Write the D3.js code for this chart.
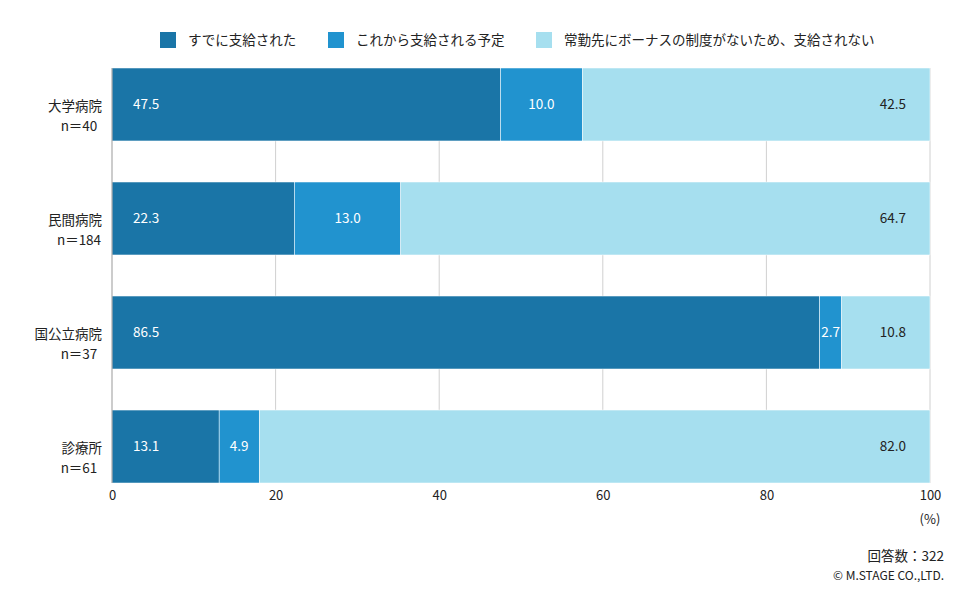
<!DOCTYPE html>
<html><head><meta charset="utf-8">
<script src="https://cdn.jsdelivr.net/npm/d3@7"></script>
<style>
body{margin:0;background:#fff;}
svg{font-family:"Noto Sans CJK JP","Noto Sans",sans-serif;}
</style></head>
<body><svg id="c" width="976" height="600"></svg>
<script>
const categories = ["大学病院","民間病院","国公立病院","診療所"];
const nLabels = ["n＝40","n＝184","n＝37","n＝61"];
const seriesNames = ["すでに支給された","これから支給される予定","常勤先にボーナスの制度がないため、支給されない"];
const paid = [47.5, 22.3, 86.5, 13.1];
const planned = [10.0, 13.0, 2.7, 4.9];
const notPaid = [42.5, 64.7, 10.8, 82.0];
const xTicks = [0,20,40,60,80,100];
const colors = ["#1a75a7","#2193cf","#a6dfef"];

const FS = 13.5;
const svg = d3.select("#c");
const x = d3.scaleLinear().domain([0,100]).range([112,930]);
const y = d3.scaleBand().domain(categories).range([68,483]).paddingInner(0.36).paddingOuter(0);

// gridlines
svg.append("g").selectAll("line").data(xTicks.filter(d=>d>0)).join("line")
  .attr("x1",d=>x(d)).attr("x2",d=>x(d)).attr("y1",68).attr("y2",483)
  .attr("stroke","#d0d0d0").attr("stroke-width",1);

const rows = categories.map((c,i)=>({cat:c, vals:[paid[i],planned[i],notPaid[i]]}));
rows.forEach(r=>{
  let acc=0;
  r.segs = r.vals.map((v,k)=>{const s={k,v,x0:acc,x1:acc+v,cat:r.cat}; acc+=v; return s;});
});

const g = svg.append("g");
rows.forEach(r=>{
  g.selectAll(null).data(r.segs).join("rect")
    .attr("x",d=>x(d.x0)).attr("width",d=>x(d.x1)-x(d.x0))
    .attr("y",y(r.cat)).attr("height",y.bandwidth())
    .attr("fill",d=>colors[d.k]).attr("stroke","#fff").attr("stroke-width",0.5);
  g.selectAll(null).data(r.segs).join("text")
    .attr("x",d=> d.k===0 ? x(d.x0)+21 : d.k===1 ? (x(d.x0)+x(d.x1))/2 : x(d.x1)-24)
    .attr("y",y(r.cat)+y.bandwidth()/2)
    .attr("dy","0.36em")
    .attr("text-anchor",d=> d.k===0 ? "start" : d.k===1 ? "middle" : "end")
    .attr("fill",d=> d.k===2 ? "#222" : "#fff")
    .attr("font-size",FS)
    .text(d=>d.v.toFixed(1));
});

// y axis line
svg.append("line").attr("x1",112).attr("x2",112).attr("y1",68).attr("y2",483)
  .attr("stroke","#999").attr("stroke-width",1);

// y labels
categories.forEach((c,i)=>{
  const cy = y(c)+y.bandwidth()/2;
  svg.append("text").attr("x",102).attr("y",cy+1.5).attr("dy","0.36em")
    .attr("text-anchor","end").attr("font-size",FS).attr("fill","#222").text(c);
  svg.append("text").attr("x",79).attr("y",cy+21.5).attr("dy","0.36em")
    .attr("text-anchor","middle").attr("font-size",FS).attr("fill","#222").text(nLabels[i]);
});

// x axis
const xa = svg.append("g").attr("transform","translate(0,483)")
  .call(d3.axisBottom(x).tickValues(xTicks).tickSize(0).tickPadding(8).tickFormat(d3.format("d")));
xa.select(".domain").remove();
xa.selectAll("text").attr("font-size",13).attr("fill","#222").attr("font-family","\"Noto Sans CJK JP\",\"Noto Sans\",sans-serif");
svg.append("text").attr("x",x(100)).attr("y",519).attr("dy","0.36em").attr("text-anchor","middle")
  .attr("font-size",13).attr("fill","#222").text("(%)");

// legend
const legX = [160,328,536];
seriesNames.forEach((s,i)=>{
  svg.append("rect").attr("x",legX[i]).attr("y",32).attr("width",16).attr("height",16).attr("fill",colors[i]);
  svg.append("text").attr("x",legX[i]+28).attr("y",40).attr("dy","0.36em")
    .attr("font-size",FS).attr("fill","#222").text(s);
});

// notes
svg.append("text").attr("x",944).attr("y",556).attr("dy","0.36em").attr("text-anchor","end")
  .attr("font-size",FS).attr("fill","#222").text("回答数：322");
svg.append("text").attr("x",944).attr("y",576).attr("dy","0.36em").attr("text-anchor","end")
  .attr("font-size",12).attr("fill","#222").text("© M.STAGE CO.,LTD.");
</script></body></html>
